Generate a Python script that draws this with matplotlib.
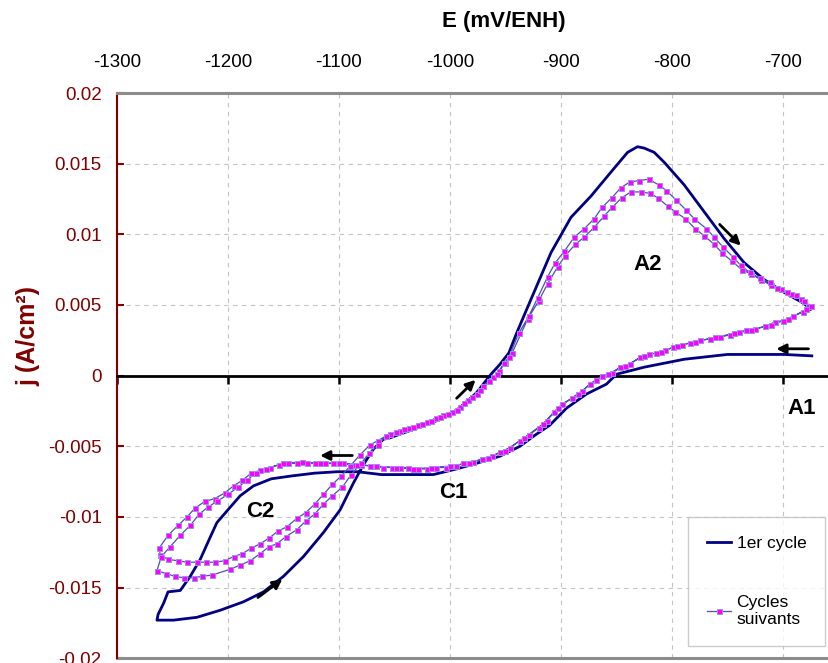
import numpy as np
import matplotlib
matplotlib.use("Agg")
from matplotlib import pyplot as plt

plt.rcParams['font.family'] = ['Liberation Sans', 'DejaVu Sans']
plt.rcParams['axes.unicode_minus'] = False

# ---- data (E in mV/ENH, j in A/cm2) ----
first_E = [-674, -699, -750, -789, -825, -850, -859, -877, -895, -910, -925, -937,
           -955, -976, -994, -1015, -1040, -1062, -1083, -1102, -1122, -1143, -1161,
           -1177, -1189, -1199, -1210, -1217, -1225, -1234, -1243, -1254, -1258, -1263,
           -1264, -1249, -1228, -1207, -1186, -1168, -1150, -1132, -1114, -1099, -1087,
           -1078, -1069, -1060, -1054, -1033, -1009, -991, -976, -963, -955, -947, -940,
           -933, -921, -909, -891, -873, -855, -840, -831, -825, -816, -807, -789, -771,
           -753, -735, -717, -699, -681, -675]
first_j = [0.0014, 0.0015, 0.0015, 0.00116, 0.0006, 0.0001, -0.0006, -0.0013, -0.0023,
           -0.0035, -0.0043, -0.0050, -0.0057, -0.0062, -0.0066, -0.0070, -0.0070,
           -0.0070, -0.0068, -0.0068, -0.0069, -0.0071, -0.0073, -0.0078, -0.0085,
           -0.0094, -0.0104, -0.0116, -0.0130, -0.0142, -0.0152, -0.0153, -0.0161,
           -0.0169, -0.0173, -0.0173, -0.0171, -0.0166, -0.0160, -0.0153, -0.0142,
           -0.0128, -0.0111, -0.0095, -0.0076, -0.0063, -0.0052, -0.0045, -0.0044,
           -0.0038, -0.0031, -0.0023, -0.0012, 0.0001, 0.0008, 0.0016, 0.0030, 0.0043,
           0.0065, 0.0087, 0.0112, 0.0127, 0.0144, 0.0158, 0.0162, 0.0161, 0.0158,
           0.0151, 0.0135, 0.0116, 0.0097, 0.0080, 0.0068, 0.0059, 0.0051, 0.0047]

# second cycle (smaller A2 peak)
cyc2_E = [-676, -682, -691, -700, -707, -716, -725, -733, -740, -748, -757, -766, -775,
          -784, -791, -799, -806, -814, -821, -829, -838, -847, -854, -863, -874, -881,
          -890, -899, -906, -913, -920, -929, -937, -946, -955, -962, -971, -979, -988,
          -995, -1004, -1013, -1021, -1029, -1038, -1045, -1052, -1060, -1072, -1080,
          -1088, -1096, -1105, -1113, -1122, -1129, -1138, -1146, -1154, -1162, -1171,
          -1179, -1187, -1195, -1203, -1212, -1221, -1230, -1237, -1245, -1254, -1262,
          -1261, -1254, -1245, -1237, -1228, -1220, -1212, -1203, -1195, -1187, -1179,
          -1171, -1163, -1155, -1147, -1138, -1130, -1122, -1114, -1106, -1098, -1090,
          -1081, -1072, -1065, -1054, -1045, -1037, -1029, -1021, -1013, -1006, -998,
          -991, -984, -976, -970, -961, -956, -950, -944, -930, -920, -912, -903, -896,
          -887, -879, -870, -861, -854, -845, -837, -828, -820, -813, -804, -797, -788,
          -779, -771, -762, -755, -746, -737, -729, -720, -711, -702, -693, -684, -677]
cyc2_j = [0.0049, 0.0045, 0.0042, 0.0039, 0.0038, 0.0035, 0.0033, 0.0032, 0.0031,
          0.0029, 0.0027, 0.0026, 0.0025, 0.0023, 0.0022, 0.0020, 0.0018, 0.0016,
          0.0015, 0.0013, 0.0008, 0.0006, 0.0002, 0.0000, -0.0006, -0.0011, -0.0016,
          -0.0020, -0.0026, -0.0032, -0.0037, -0.0042, -0.0046, -0.0051, -0.0054,
          -0.0057, -0.0059, -0.0061, -0.0062, -0.0064, -0.0065, -0.0065, -0.0066,
          -0.0066, -0.0065, -0.0065, -0.0065, -0.0065, -0.0064, -0.0063, -0.0063,
          -0.0062, -0.0062, -0.0062, -0.0062, -0.0062, -0.0062, -0.0062, -0.0063,
          -0.0065, -0.0067, -0.0069, -0.0074, -0.0078, -0.0083, -0.0087, -0.0089,
          -0.0094, -0.0100, -0.0106, -0.0113, -0.0122, -0.0127, -0.0130, -0.0131,
          -0.0132, -0.0132, -0.0132, -0.0132, -0.0131, -0.0128, -0.0126, -0.0122,
          -0.0119, -0.0115, -0.0110, -0.0107, -0.0101, -0.0097, -0.0091, -0.0084,
          -0.0077, -0.0071, -0.0064, -0.0056, -0.0049, -0.0046, -0.0041, -0.0039,
          -0.0037, -0.0035, -0.0033, -0.0030, -0.0028, -0.0026, -0.0022, -0.0017,
          -0.0013, -0.0007, -0.0001, 0.0003, 0.0009, 0.0016, 0.0040, 0.0053, 0.0065,
          0.0077, 0.0085, 0.0093, 0.0098, 0.0105, 0.0113, 0.0119, 0.0126, 0.0130,
          0.0130, 0.0129, 0.0126, 0.0120, 0.0116, 0.0111, 0.0104, 0.0099, 0.0093,
          0.0087, 0.0081, 0.0075, 0.0072, 0.0068, 0.0064, 0.0061, 0.0058, 0.0054,
          0.0049]

# third cycle (larger A2 peak)
cyc3_E = [-679, -695, -711, -729, -744, -761, -779, -795, -810, -825, -842, -858, -868,
          -885, -903, -916, -933, -950, -966, -983, -1000, -1017, -1033, -1049, -1067,
          -1084, -1100, -1117, -1133, -1150, -1166, -1175, -1183, -1191, -1200, -1210,
          -1218, -1226, -1234, -1243, -1252, -1260, -1264, -1256, -1248, -1240, -1231,
          -1223, -1214, -1198, -1189, -1180, -1171, -1163, -1156, -1148, -1138, -1130,
          -1122, -1114, -1106, -1097, -1089, -1080, -1073, -1065, -1058, -1049, -1041,
          -1033, -1025, -1017, -1009, -1002, -994, -987, -980, -973, -965, -958, -951,
          -947, -938, -929, -921, -912, -905, -897, -888, -879, -870, -863, -854, -846,
          -838, -830, -821, -812, -805, -796, -787, -780, -769, -762, -754, -745, -738,
          -730, -721, -712, -705, -696, -688, -681, -675]
cyc3_j = [0.0047, 0.0040, 0.0036, 0.0032, 0.0030, 0.0027, 0.0024, 0.0021, 0.0017,
          0.0014, 0.0007, 0.0001, -0.0003, -0.0013, -0.0023, -0.0034, -0.0044, -0.0053,
          -0.0058, -0.0062, -0.0064, -0.0065, -0.0066, -0.0065, -0.0064, -0.0063,
          -0.0062, -0.0062, -0.0061, -0.0062, -0.0066, -0.0069, -0.0074, -0.0079,
          -0.0084, -0.0089, -0.0093, -0.0098, -0.0106, -0.0113, -0.0121, -0.0128,
          -0.0138, -0.0140, -0.0142, -0.0143, -0.0143, -0.0142, -0.0141, -0.0137,
          -0.0134, -0.0131, -0.0126, -0.0121, -0.0119, -0.0114, -0.0109, -0.0103,
          -0.0098, -0.0091, -0.0085, -0.0079, -0.0070, -0.0062, -0.0055, -0.0049,
          -0.0043, -0.0040, -0.0038, -0.0036, -0.0034, -0.0032, -0.0029, -0.0027,
          -0.0024, -0.0019, -0.0015, -0.0010, -0.0004, 0.0001, 0.0009, 0.0013, 0.0030,
          0.0042, 0.0055, 0.0070, 0.0080, 0.0088, 0.0098, 0.0104, 0.0111, 0.0119,
          0.0126, 0.0133, 0.0137, 0.0138, 0.0139, 0.0135, 0.0131, 0.0124, 0.0117,
          0.0111, 0.0104, 0.0098, 0.0091, 0.0084, 0.0078, 0.0073, 0.0069, 0.0066,
          0.0062, 0.0059, 0.0057, 0.0053, 0.0049]

next_E = cyc2_E + cyc3_E
next_j = cyc2_j + cyc3_j

x_ticks = [-1300, -1200, -1100, -1000, -900, -800, -700]
y_ticks = [-0.02, -0.015, -0.01, -0.005, 0, 0.005, 0.01, 0.015, 0.02]

# peak labels and scan-direction arrows (tail, head)
peak_labels = [('A2', -822, 0.0079), ('A1', -683, -0.0023), ('C1', -997, -0.0083),
               ('C2', -1171, -0.0096)]
scan_arrows = [((-757, 0.0107), (-738, 0.0092)), ((-677, 0.0019), (-706, 0.0019)),
               ((-994, -0.0016), (-977, -0.0003)), ((-1088, -0.00565), (-1117, -0.00565)),
               ((-1173, -0.0157), (-1151, -0.0144))]

maroon = '#800000'

fig = plt.figure(figsize=(8.29, 6.63), dpi=100)
ax = fig.add_axes([117 / 829, 1 - 658.3 / 663, 712 / 829, (658.3 - 93) / 663])

ax.plot(first_E, first_j, color='#000080', lw=2, label='1er cycle', zorder=3)
ax.plot(next_E, next_j, color='#5050b0', lw=0.9, marker='s', ms=3.6,
        mfc='#ff00ff', mec='#9a8ef0', mew=0.7, label='Cycles\nsuivants', zorder=4)

ax.set_xlim(-1300, -658.5)
ax.set_ylim(-0.02, 0.02)
ax.set_xticks(x_ticks)
ax.set_yticks(y_ticks)
ax.set_yticklabels([f'{v:g}' for v in y_ticks])

ax.grid(True, ls=(0, (4, 4)), color='#c4c4c4', lw=0.8)
ax.set_axisbelow(True)

ax.spines['right'].set_visible(False)
ax.spines['top'].set_color('#8c8c8c')
ax.spines['top'].set_linewidth(2.2)
ax.spines['left'].set_color(maroon)
ax.spines['left'].set_linewidth(1.5)
ax.spines['bottom'].set_position(('data', 0))
ax.spines['bottom'].set_color('black')
ax.spines['bottom'].set_linewidth(2)
ax.axhline(-0.02, color='#8c8c8c', lw=2.2, clip_on=False, zorder=2)

ax.tick_params(axis='x', bottom=True, top=False, labelbottom=False,
               direction='out', length=6, width=1.8, color='black')
ax.tick_params(axis='y', direction='in', length=5, width=1.5, color=maroon,
               labelcolor=maroon, labelsize=13.5, pad=11)

sec = ax.secondary_xaxis('top')
sec.set_xticks(x_ticks)
sec.set_xticklabels([str(v) for v in x_ticks])
sec.spines['top'].set_visible(False)
sec.tick_params(length=0, labelsize=13.5, pad=16)

fig.text(504 / 829, 1 - 22 / 663, 'E (mV/ENH)', ha='center', va='center',
         fontsize=16, fontweight='bold')
ax.set_ylabel('j (A/cm²)', color=maroon, fontsize=18, fontweight='bold')
ax.yaxis.set_label_coords(-0.108, 0.57)

for text, e, j in peak_labels:
    ax.text(e, j, text, ha='center', va='center', fontsize=16, fontweight='bold')

for tail, head in scan_arrows:
    ax.annotate('', xy=head, xytext=tail,
                arrowprops=dict(arrowstyle='-|>', lw=2, color='black',
                                mutation_scale=14, shrinkA=0, shrinkB=0))

leg = ax.legend(loc='upper left', bbox_to_anchor=(688 / 829, 1 - 517 / 663),
                bbox_transform=fig.transFigure, fontsize=12.5, frameon=True,
                fancybox=False, edgecolor='#c0c0c0', borderpad=1.1,
                handlelength=1.4, handletextpad=0.3, labelspacing=2.5,
                borderaxespad=0)
leg.get_frame().set_linewidth(1)

fig.savefig('out.png', dpi=100)
